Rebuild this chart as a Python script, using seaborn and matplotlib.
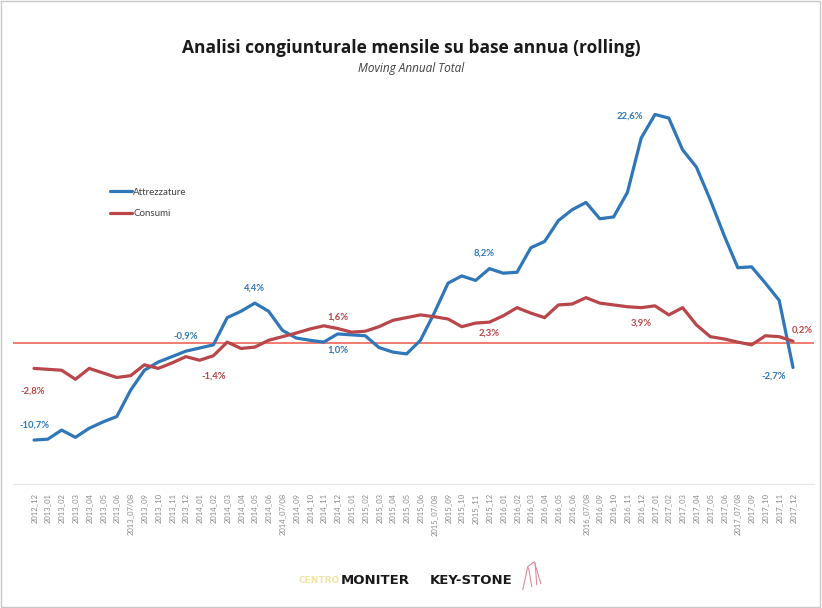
#%% Modules Import
import numpy as np
import pandas as pd

import seaborn as sns
import matplotlib.pyplot as plt
from matplotlib.patches import Rectangle
from matplotlib.lines import Line2D

#%% - Data
""" Mesi (categorie asse x) """
periodi = ['2012_12']
for anno in range(2013, 2018):
    for m in ['01', '02', '03', '04', '05', '06', '07/08', '09', '10', '11', '12']:
        periodi.append(f'{anno}_{m}')

# Variazione MAT Attrezzature (%) #
attrezzature = [-10.7, -10.6, -9.6, -10.4, -9.4, -8.7, -8.1, -5.2, -3.0, -2.1,
                -1.5, -0.9, -0.55, -0.2, 2.8, 3.5, 4.4, 3.5, 1.4, 0.55,
                0.3, 0.1, 1.0, 0.9, 0.8, -0.5, -1.0, -1.2, 0.3, 3.3,
                6.6, 7.4, 6.9, 8.2, 7.7, 7.8, 10.5, 11.2, 13.5, 14.7,
                15.5, 13.7, 13.9, 16.6, 22.6, 25.2, 24.8, 21.3, 19.4, 15.8,
                11.9, 8.3, 8.4, 6.6, 4.7, -2.7]

# Variazione MAT Consumi (%) #
consumi = [-2.8, -2.9, -3.0, -4.0, -2.8, -3.3, -3.8, -3.6, -2.4, -2.8,
           -2.2, -1.5, -1.9, -1.4, 0.1, -0.6, -0.45, 0.3, 0.7, 1.1,
           1.55, 1.9, 1.6, 1.2, 1.3, 1.8, 2.5, 2.8, 3.1, 2.9,
           2.65, 1.8, 2.2, 2.3, 3.0, 3.9, 3.3, 2.8, 4.2, 4.3,
           5.0, 4.4, 4.2, 4.0, 3.9, 4.1, 3.1, 3.9, 2.0, 0.7,
           0.45, 0.1, -0.2, 0.8, 0.7, 0.2]

# Etichette dati (indice, testo, offset in pt) #
label_attr = [(0, '-10,7%', (0, 11)), (11, '-0,9%', (0, 11)), (16, '4,4%', (0, 11)),
              (22, '1,0%', (0, -12)), (33, '8,2%', (-4, 11)), (44, '22,6%', (-8, 16)),
              (55, '-2,7%', (-14, -6))]
label_cons = [(0, '-2,8%', (-1, -16)), (13, '-1,4%', (0, -15)), (22, '1,6%', (0, 8)),
              (33, '2,3%', (0, -8)), (44, '3,9%', (0, -11)), (55, '0,2%', (7, 8))]

df = pd.DataFrame({'periodo': periodi * 2,
                   'valore': attrezzature + consumi,
                   'serie': ['Attrezzature'] * len(periodi) + ['Consumi'] * len(periodi)})
df['pos'] = list(range(len(periodi))) * 2

#%% - Plot
sns.set_style('white')
plt.rcParams['font.family'] = ['Lato', 'DejaVu Sans']

blu = '#2f77b8'
rosso = '#b8464a'

fig = plt.figure(figsize=(8.22, 6.08), dpi=100)
ax = fig.add_axes([0.0162, 0.2046, 0.9737, 0.634])

ax.axhline(0, color='#f07c70', lw=1.4, zorder=1)
sns.lineplot(data=df, x='pos', y='valore', hue='serie', palette=[blu, rosso],
             sort=False, lw=2.3, ax=ax, zorder=3)

for i, txt, off in label_attr:
    ax.annotate(txt, (i, attrezzature[i]), xytext=off, textcoords='offset points',
                ha='center', va='center', fontsize=6.8, fontweight='bold', color=blu)
for i, txt, off in label_cons:
    ax.annotate(txt, (i, consumi[i]), xytext=off, textcoords='offset points',
                ha='center', va='center', fontsize=6.8, fontweight='bold', color=rosso)

ax.set_xlim(-1.5, len(periodi) + 0.5)
ax.set_ylim(-15.5, 27)
ax.set_xticks(range(len(periodi)))
ax.set_xticklabels(periodi, rotation=90, fontsize=5.5, color='#8a8a8a')
ax.tick_params(axis='x', length=0, pad=7)
ax.set_yticks([])
ax.set_xlabel('')
ax.set_ylabel('')
for s in ['top', 'right', 'left']:
    ax.spines[s].set_visible(False)
ax.spines['bottom'].set_color('#e6e6e6')
ax.spines['bottom'].set_linewidth(0.8)

leg = ax.legend(loc='upper left', bbox_to_anchor=(0.11, 0.79), frameon=False,
                fontsize=7, handlelength=2.3, labelspacing=1.3, handletextpad=0.1)
for t in leg.get_texts():
    t.set_color('#404040')

# Titoli #
fig.text(0.5, 0.921, 'Analisi congiunturale mensile su base annua (rolling)',
         ha='center', va='center', fontsize=12.5, fontweight='bold', color='#1a1a1a',
         family='Open Sans')
fig.text(0.5, 0.888, 'Moving Annual Total', ha='center', va='center',
         fontsize=8.5, style='italic', color='#404040', family='Open Sans')

# Loghi (testo) #
fig.text(0.363, 0.046, 'CENTRO', ha='left', va='center', fontsize=6.5,
         fontweight='bold', color='#f2e3a6', family='DejaVu Sans')
fig.text(0.414, 0.046, 'MONITER', ha='left', va='center', fontsize=9.5,
         fontweight='bold', color='#1a1a1a', family='DejaVu Sans')
fig.text(0.523, 0.046, 'KEY-STONE', ha='left', va='center', fontsize=9.5,
         fontweight='bold', color='#1a1a1a', family='DejaVu Sans')
# piccolo segno rosa del logo Key-Stone #
for xs, ys in [([0.636, 0.642, 0.650, 0.658], [0.030, 0.068, 0.076, 0.040]),
               ([0.643, 0.647], [0.066, 0.035]), ([0.651, 0.653], [0.074, 0.038])]:
    fig.add_artist(Line2D(xs, ys, transform=fig.transFigure, color='#e08a9a', lw=0.8))

fig.patches.append(Rectangle((0.001, 0.001), 0.997, 0.997, transform=fig.transFigure,
                             fill=False, edgecolor='#c8c8c8', lw=1))

plt.savefig('out.png', dpi=100)
